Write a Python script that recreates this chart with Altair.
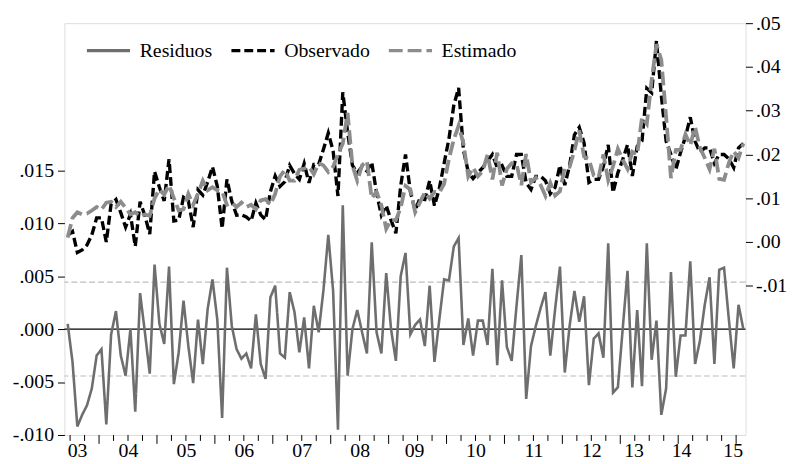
import altair as alt
import pandas as pd

FONT = "Liberation Serif"

# ---------------- data ----------------
start_month = "2003-06"

residuos = [
    0.0005, -0.0031, -0.0092, -0.0081, -0.0072, -0.0056, -0.0025, -0.0019, -0.0090, -0.0005,
    0.0017, -0.0025, -0.0044, 0.0000, -0.0078, 0.0034, -0.0003, -0.0042, 0.0061, 0.0005,
    -0.0014, 0.0059, -0.0052, -0.0022, 0.0027, -0.0016, -0.0051, 0.0009, -0.0033, 0.0019,
    0.0047, 0.0009, -0.0084, 0.0058, 0.0003, -0.0019, -0.0028, -0.0023, -0.0037, 0.0014,
    -0.0033, -0.0047, 0.0030, 0.0041, -0.0023, -0.0027, 0.0035, 0.0016, -0.0022, 0.0011,
    -0.0037, 0.0022, -0.0003, 0.0037, 0.0089, 0.0036, -0.0095, 0.0117, -0.0044, 0.0000,
    0.0018, -0.0003, -0.0023, 0.0082, -0.0003, -0.0023, 0.0053, 0.0000, -0.0030, 0.0050,
    0.0072, -0.0005, 0.0004, 0.0009, -0.0016, 0.0041, -0.0031, 0.0009, 0.0047, 0.0046,
    0.0078, 0.0086, -0.0015, 0.0010, -0.0025, 0.0008, 0.0008, -0.0015, 0.0057, -0.0034,
    0.0046, -0.0017, -0.0030, 0.0022, 0.0070, -0.0066, -0.0016, 0.0003, 0.0020, 0.0035,
    -0.0025, 0.0019, 0.0059, -0.0041, 0.0003, 0.0036, 0.0007, 0.0031, -0.0053, -0.0009,
    -0.0004, -0.0027, 0.0081, -0.0060, -0.0055, 0.0000, 0.0055, -0.0055, 0.0018, -0.0054,
    0.0081, -0.0029, 0.0008, -0.0081, -0.0056, 0.0054, -0.0045, -0.0006, -0.0006, 0.0064,
    -0.0033, -0.0011, 0.0023, 0.0049, -0.0033, 0.0056, 0.0058, 0.0009, -0.0037, 0.0023,
    0.0000,
]

observado = [
    0.0015, 0.0024, -0.0024, -0.0018, -0.0007, 0.0016, 0.0055, 0.0055, 0.0000, 0.0087,
    0.0097, 0.0067, 0.0034, 0.0063, -0.0010, 0.0092, 0.0060, 0.0018, 0.0161, 0.0125,
    0.0094, 0.0189, 0.0048, 0.0050, 0.0102, 0.0094, 0.0034, 0.0119, 0.0107, 0.0137,
    0.0172, 0.0127, 0.0031, 0.0143, 0.0093, 0.0061, 0.0062, 0.0057, 0.0048, 0.0089,
    0.0062, 0.0051, 0.0115, 0.0151, 0.0127, 0.0138, 0.0175, 0.0156, 0.0143, 0.0179,
    0.0135, 0.0177, 0.0177, 0.0212, 0.0249, 0.0208, 0.0105, 0.0342, 0.0251, 0.0175,
    0.0158, 0.0172, 0.0162, 0.0182, 0.0112, 0.0061, 0.0083, 0.0050, 0.0020, 0.0128,
    0.0200, 0.0115, 0.0072, 0.0100, 0.0097, 0.0140, 0.0083, 0.0122, 0.0180, 0.0236,
    0.0312, 0.0352, 0.0210, 0.0160, 0.0145, 0.0158, 0.0170, 0.0185, 0.0200, 0.0170,
    0.0175, 0.0150, 0.0150, 0.0200, 0.0200, 0.0135, 0.0120, 0.0150, 0.0150, 0.0140,
    0.0110, 0.0125, 0.0175, 0.0130, 0.0175, 0.0245, 0.0262, 0.0226, 0.0136, 0.0143,
    0.0143, 0.0173, 0.0222, 0.0113, 0.0158, 0.0188, 0.0222, 0.0151, 0.0218, 0.0231,
    0.0351, 0.0341, 0.0460, 0.0335, 0.0230, 0.0200, 0.0165, 0.0205, 0.0240, 0.0285,
    0.0230, 0.0205, 0.0215, 0.0215, 0.0180, 0.0200, 0.0200, 0.0190, 0.0170, 0.0215,
    0.0225,
]

estimado = [
    0.0010, 0.0055, 0.0068, 0.0063, 0.0065, 0.0072, 0.0080, 0.0074, 0.0090, 0.0092,
    0.0080, 0.0092, 0.0078, 0.0063, 0.0068, 0.0058, 0.0063, 0.0060, 0.0100, 0.0120,
    0.0108, 0.0130, 0.0100, 0.0072, 0.0075, 0.0110, 0.0085, 0.0110, 0.0140, 0.0118,
    0.0125, 0.0118, 0.0115, 0.0085, 0.0090, 0.0080, 0.0090, 0.0080, 0.0085, 0.0075,
    0.0095, 0.0098, 0.0085, 0.0110, 0.0150, 0.0165, 0.0140, 0.0140, 0.0165, 0.0168,
    0.0172, 0.0155, 0.0180, 0.0175, 0.0160, 0.0172, 0.0200, 0.0225, 0.0295, 0.0175,
    0.0140, 0.0175, 0.0185, 0.0100, 0.0115, 0.0084, 0.0030, 0.0050, 0.0050, 0.0078,
    0.0128, 0.0120, 0.0068, 0.0091, 0.0113, 0.0099, 0.0114, 0.0113, 0.0133, 0.0190,
    0.0234, 0.0266, 0.0225, 0.0150, 0.0170, 0.0150, 0.0162, 0.0200, 0.0143, 0.0204,
    0.0129, 0.0167, 0.0180, 0.0178, 0.0130, 0.0201, 0.0136, 0.0147, 0.0130, 0.0105,
    0.0135, 0.0106, 0.0116, 0.0171, 0.0172, 0.0209, 0.0255, 0.0195, 0.0189, 0.0152,
    0.0147, 0.0200, 0.0141, 0.0173, 0.0213, 0.0188, 0.0167, 0.0206, 0.0200, 0.0285,
    0.0270, 0.0370, 0.0452, 0.0416, 0.0286, 0.0146, 0.0210, 0.0211, 0.0246, 0.0221,
    0.0263, 0.0216, 0.0192, 0.0166, 0.0213, 0.0144, 0.0142, 0.0181, 0.0207, 0.0192,
    0.0225,
]

series_names = ["Residuos", "Observado", "Estimado"]
series_colors = ["#6e6e6e", "#000000", "#8c8c8c"]
series_dash = [[1, 0], [9, 4], [14, 5]]

resid_sd = 0.00443
left_ticks = [-0.010, -0.005, 0.0, 0.005, 0.010, 0.015]
right_ticks = [-0.01, 0.0, 0.01, 0.02, 0.03, 0.04, 0.05]
year_labels = ["03", "04", "05", "06", "07", "08", "09", "10", "11", "12", "13", "14", "15"]
year_label_pos = [2003.62, 2004.5, 2005.5, 2006.5, 2007.5, 2008.5, 2009.44, 2010.5,
                  2011.5, 2012.5, 2013.23, 2014.05, 2014.94]
major_tick_years = list(range(2004, 2016))

# ---------------- frames ----------------
periods = pd.period_range(start_month, periods=len(residuos), freq="M")
t = [p.year + (p.month - 0.5) / 12 for p in periods]

df_res = pd.DataFrame({"t": t, "v": residuos, "serie": "Residuos"})
df_obs = pd.DataFrame({"t": t, "v": observado, "serie": "Observado"})
df_est = pd.DataFrame({"t": t, "v": estimado, "serie": "Estimado"})
df_zero = pd.DataFrame({"v": [0.0]})
df_sd = pd.DataFrame({"v": [resid_sd, -resid_sd]})
df_major = pd.DataFrame({"t": major_tick_years})
minor = [y + q / 4 for y in range(2003, 2016) for q in (1, 2, 3)]
minor = [m for m in minor if 2003.45 <= m <= 2015.1]
df_minor = pd.DataFrame({"t": minor})

# ---------------- encodings ----------------
W, H = 688, 416

thr = [(year_label_pos[k] + year_label_pos[k + 1]) / 2 for k in range(len(year_label_pos) - 1)]
label_expr = ""
for k, th in enumerate(thr):
    label_expr += f"datum.value < {th:.4f} ? '{year_labels[k]}' : "
label_expr += f"'{year_labels[-1]}'"

x_scale = alt.Scale(domain=[2003.402, 2015.162], nice=False, zero=False)
x_axis = alt.Axis(values=year_label_pos, labelExpr=label_expr, ticks=False, grid=False,
                  domain=False, labelPadding=22, labelBaseline="alphabetic",
                  labelFontSize=20, labelFont=FONT,
                  labelColor="black", labelFlush=False, labelOverlap=False, title=None)
X = alt.X("t:Q", scale=x_scale, axis=x_axis)

fmt_left = "replace(replace(format(datum.value, '.3f'), '\u2212', '-'), '0.', '.')"
fmt_right = "replace(replace(format(datum.value, '.2f'), '\u2212', '-'), '0.', '.')"

left_scale = alt.Scale(domain=[-0.010, 0.0289], nice=False, zero=False)
left_axis = alt.Axis(orient="left", values=left_ticks, labelExpr=fmt_left,
                     tickSize=7, tickColor="black", tickWidth=1, labelPadding=4,
                     domain=False, grid=False, labelFontSize=20, labelFont=FONT,
                     labelColor="black", title=None)
right_scale = alt.Scale(domain=[-0.0441, 0.05], nice=False, zero=False)
right_axis = alt.Axis(orient="right", values=right_ticks, labelExpr=fmt_right,
                      tickSize=7, tickColor="black", tickWidth=1, labelPadding=3,
                      domain=False, grid=False, labelFontSize=20, labelFont=FONT,
                      labelColor="black", title=None)
YL = alt.Y("v:Q", scale=left_scale, axis=left_axis)
YR = alt.Y("v:Q", scale=right_scale, axis=right_axis)

leg = alt.Legend(title=None, orient="none", legendX=21, legendY=4, direction="horizontal",
                 symbolType="stroke", symbolSize=1900, symbolStrokeWidth=3.2,
                 labelFont=FONT, labelFontSize=20, labelColor="black", labelOffset=8,
                 columnPadding=12, padding=0)
C = alt.Color("serie:N", scale=alt.Scale(domain=series_names, range=series_colors), legend=leg)
D = alt.StrokeDash("serie:N", scale=alt.Scale(domain=series_names, range=series_dash), legend=leg)

# ---------------- layers ----------------
sd_rules = alt.Chart(df_sd).mark_rule(color="#bdbdbd", strokeWidth=1.2, strokeDash=[6, 3]).encode(y=YL)
zero_rule = alt.Chart(df_zero).mark_rule(color="black", strokeWidth=1.4).encode(y=YL)
resid_line = alt.Chart(df_res).mark_line(strokeWidth=2.6).encode(x=X, y=YL, color=C, strokeDash=D)
major_ticks = alt.Chart(df_major).mark_rule(color="black", strokeWidth=1).encode(
    x=X, y=alt.value(H), y2=alt.value(H + 9))
minor_ticks = alt.Chart(df_minor).mark_rule(color="black", strokeWidth=1).encode(
    x=X, y=alt.value(H), y2=alt.value(H + 6))

obs_line = alt.Chart(df_obs).mark_line(strokeWidth=3.4).encode(x=X, y=YR, color=C, strokeDash=D)
est_line = alt.Chart(df_est).mark_line(strokeWidth=3.8).encode(x=X, y=YR, color=C, strokeDash=D)

left = alt.layer(sd_rules, zero_rule, resid_line, major_ticks, minor_ticks)
right = alt.layer(obs_line, est_line)

chart = (
    alt.layer(left, right)
    .resolve_scale(y="independent")
    .properties(width=W, height=H, autosize="none",
                padding={"left": 57, "top": 13, "right": 49, "bottom": 27})
    .configure_view(stroke="#333333", strokeWidth=1.5)
    .configure(font=FONT, background="white")
)

chart.save("out.html", embed_options={"renderer": "svg", "actions": False})
